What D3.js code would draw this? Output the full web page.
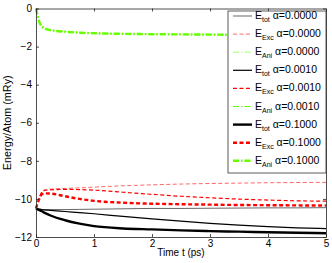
<!DOCTYPE html>
<html>
<head>
<meta charset="utf-8">
<script src="https://cdn.jsdelivr.net/npm/d3@7"></script>
<style>
  body { margin: 0; background: #fff; }
  svg { display: block; font-family: "Liberation Sans", Arial, sans-serif; }
  .eixo text { font-size: 10px; fill: #000; }
  .eixo path, .eixo line { stroke: #222; stroke-width: 0.8; }
</style>
</head>
<body>
<svg id="grafico"></svg>
<script>
// tempo em ps
const tempo = [0, 0.05, 0.1, 0.15, 0.25, 0.5, 0.75, 1, 1.5, 2, 2.5, 3, 3.5, 4, 4.5, 5];

// alpha = 0.0000
const totA0 = [-10.5, -10.55, -10.56, -10.56, -10.56, -10.56, -10.55, -10.54, -10.52, -10.5, -10.5, -10.49, -10.48, -10.47, -10.47, -10.46];
const excA0 = [-10.5, -10.0, -9.62, -9.52, -9.48, -9.45, -9.42, -9.38, -9.31, -9.26, -9.22, -9.19, -9.17, -9.15, -9.14, -9.13];
const aniA0 = [0, -0.6, -0.9, -1.02, -1.12, -1.2, -1.25, -1.28, -1.32, -1.34, -1.35, -1.36, -1.37, -1.37, -1.38, -1.38];
// alpha = 0.0010
const totA1 = [-10.5, -10.53, -10.56, -10.58, -10.6, -10.66, -10.72, -10.78, -10.92, -11.05, -11.17, -11.28, -11.38, -11.46, -11.52, -11.56];
const excA1 = [-10.5, -10.0, -9.65, -9.56, -9.52, -9.5, -9.51, -9.54, -9.65, -9.76, -9.86, -9.94, -10.01, -10.06, -10.1, -10.12];
const aniA1 = [0, -0.62, -0.92, -1.03, -1.13, -1.21, -1.26, -1.29, -1.33, -1.35, -1.36, -1.37, -1.37, -1.38, -1.38, -1.39];
// alpha = 0.1000
const totA2 = [-10.5, -10.58, -10.65, -10.73, -10.87, -11.12, -11.3, -11.43, -11.55, -11.6, -11.65, -11.69, -11.72, -11.75, -11.78, -11.8];
const excA2 = [-10.5, -10.05, -9.76, -9.71, -9.72, -9.86, -10.0, -10.1, -10.2, -10.25, -10.28, -10.3, -10.32, -10.33, -10.34, -10.35];
const aniA2 = [0, -0.65, -0.95, -1.05, -1.14, -1.22, -1.27, -1.3, -1.33, -1.35, -1.36, -1.37, -1.38, -1.38, -1.39, -1.39];

const xTicks = [0, 1, 2, 3, 4, 5];
const yTicks = [0, -2, -4, -6, -8, -10, -12];

const cores = { tot: '#000', exc: '#f00', ani: '#6f0' };
const tracos = { tot: null, exc: '4,2.5', ani: '6,2,1.5,2' };
const espessuras = [0.6, 1.2, 2.4];

const series = [
  { tipo: 'tot', sub: 'tot', alfa: '0.0000', nivel: 0, dados: totA0 },
  { tipo: 'exc', sub: 'Exc', alfa: '0.0000', nivel: 0, dados: excA0 },
  { tipo: 'ani', sub: 'Ani', alfa: '0.0000', nivel: 0, dados: aniA0 },
  { tipo: 'tot', sub: 'tot', alfa: '0.0010', nivel: 1, dados: totA1 },
  { tipo: 'exc', sub: 'Exc', alfa: '0.0010', nivel: 1, dados: excA1 },
  { tipo: 'ani', sub: 'Ani', alfa: '0.0010', nivel: 1, dados: aniA1 },
  { tipo: 'tot', sub: 'tot', alfa: '0.1000', nivel: 2, dados: totA2 },
  { tipo: 'exc', sub: 'Exc', alfa: '0.1000', nivel: 2, dados: excA2 },
  { tipo: 'ani', sub: 'Ani', alfa: '0.1000', nivel: 2, dados: aniA2 }
];

const largura = 332, altura = 263;
const margem = { esquerda: 36, direita: 6, superior: 8.5, inferior: 26 };

const svg = d3.select('#grafico').attr('width', largura).attr('height', altura);

const x = d3.scaleLinear().domain([0, 5]).range([margem.esquerda, largura - margem.direita]);
const y = d3.scaleLinear().domain([-12, 0]).range([altura - margem.inferior, margem.superior]);

const linha = d3.line()
  .x((d, i) => x(tempo[i]))
  .y(d => y(d))
  .curve(d3.curveMonotoneX);

svg.selectAll('.serie')
  .data(series)
  .enter()
  .append('path')
  .classed('serie', true)
  .attr('d', s => linha(s.dados))
  .attr('fill', 'none')
  .attr('stroke', s => cores[s.tipo])
  .attr('stroke-width', s => espessuras[s.nivel])
  .attr('stroke-dasharray', s => tracos[s.tipo]);

// eixos
svg.append('g').classed('eixo', true)
  .attr('transform', `translate(0, ${y(-12)})`)
  .call(d3.axisBottom(x).tickValues(xTicks).tickFormat(d3.format('d'))
    .tickSizeInner(-3).tickSizeOuter(0).tickPadding(3));
svg.append('g').classed('eixo', true)
  .attr('transform', `translate(${x(0)}, 0)`)
  .call(d3.axisLeft(y).tickValues(yTicks).tickSizeInner(-3).tickSizeOuter(0).tickPadding(4));
svg.append('g').classed('eixo', true)
  .attr('transform', `translate(0, ${y(0)})`)
  .call(d3.axisTop(x).tickValues(xTicks).tickSizeInner(-3).tickSizeOuter(0).tickFormat(''));
svg.append('g').classed('eixo', true)
  .attr('transform', `translate(${x(5)}, 0)`)
  .call(d3.axisRight(y).tickValues(yTicks).tickSizeInner(-3).tickSizeOuter(0).tickFormat(''));

svg.append('text')
  .attr('x', (x(0) + x(5)) / 2)
  .attr('y', 256)
  .attr('text-anchor', 'middle')
  .style('font-size', '10px')
  .text('Time t (ps)');

svg.append('text')
  .attr('transform', `translate(11, ${(y(0) + y(-12)) / 2}) rotate(-90)`)
  .attr('text-anchor', 'middle')
  .style('font-size', '10.8px')
  .text('Energy/Atom (mRy)');

// legenda
const legenda = svg.append('g').attr('transform', 'translate(228, 11)');
legenda.append('rect')
  .attr('width', 98).attr('height', 162)
  .attr('fill', '#fff').attr('stroke', '#333').attr('stroke-width', 0.8);

const itens = legenda.selectAll('.item')
  .data(series)
  .enter()
  .append('g')
  .classed('item', true)
  .attr('transform', (s, i) => `translate(0, ${5 + i * 18.1})`);

itens.append('line')
  .attr('x1', 5).attr('x2', 24)
  .attr('stroke', s => cores[s.tipo])
  .attr('stroke-width', s => espessuras[s.nivel])
  .attr('stroke-dasharray', s => tracos[s.tipo]);

const rotulo = itens.append('text')
  .attr('x', 27).attr('y', 3)
  .style('font-size', '10.5px');
rotulo.append('tspan').text('E');
rotulo.append('tspan').attr('dy', 3).style('font-size', '7px').text(s => s.sub);
rotulo.append('tspan').attr('dy', -3).text(s => ' α=' + s.alfa);
</script>
</body>
</html>
